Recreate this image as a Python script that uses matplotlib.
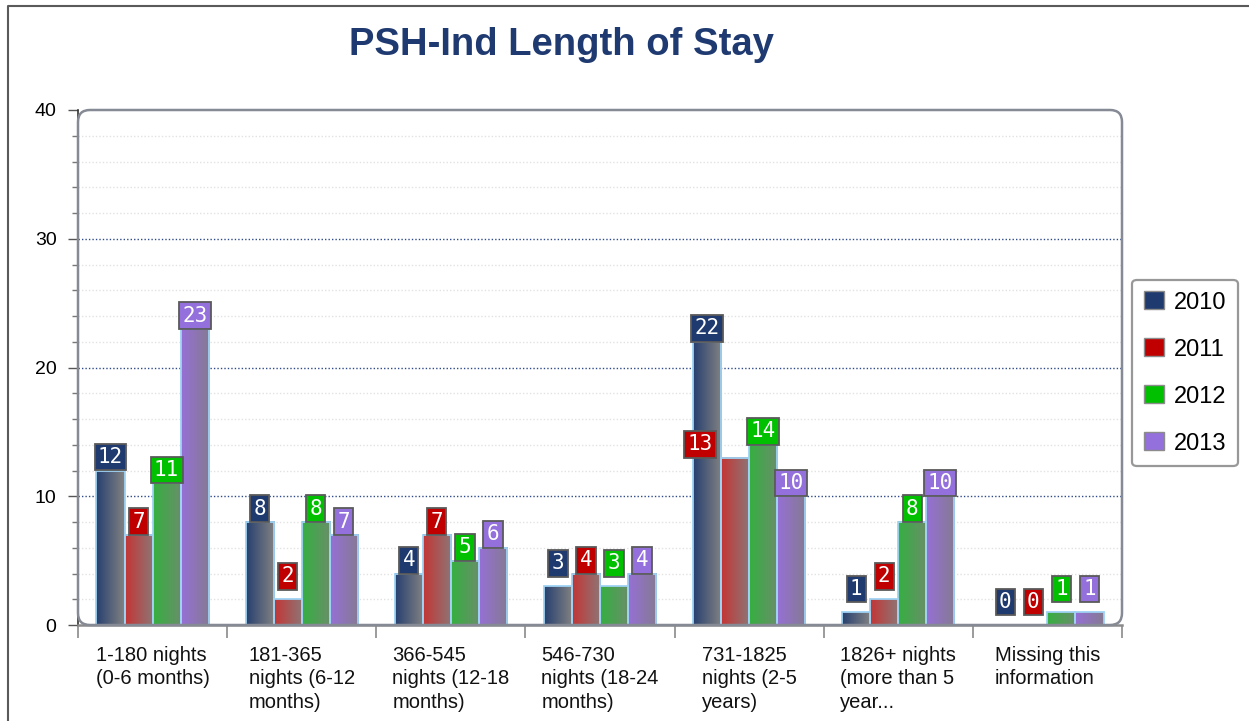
import numpy as np
import matplotlib
matplotlib.use('Agg')
import matplotlib.pyplot as plt
import matplotlib.patches as pch
from matplotlib.lines import Line2D
from matplotlib.ticker import MultipleLocator
from matplotlib.colors import LinearSegmentedColormap


# data
categories = [
    '1-180 nights\n(0-6 months)',
    '181-365\nnights (6-12\nmonths)',
    '366-545\nnights (12-18\nmonths)',
    '546-730\nnights (18-24\nmonths)',
    '731-1825\nnights (2-5\nyears)',
    '1826+ nights\n(more than 5\nyear...',
    'Missing this\ninformation',
]
years = ['2010', '2011', '2012', '2013']
v2010 = [12, 8, 4, 3, 22, 1, 0]
v2011 = [7, 2, 7, 4, 13, 2, 0]
v2012 = [11, 8, 5, 3, 14, 8, 1]
v2013 = [23, 7, 6, 4, 10, 10, 1]
series = [v2010, v2011, v2012, v2013]

# styles
colours = ['#1F3A6E', '#C00000', '#00C000', '#9370DB']
grad_left = ['#27406F', '#C43535', '#35B040', '#9670D6']
grad_right = ['#828282', '#8E7676', '#6A8E6A', '#857A92']
title_colour = '#1F3A70'

plt.rcParams['font.family'] = ['Liberation Sans', 'DejaVu Sans']

fig = plt.figure(figsize=(12.49, 7.21), dpi=100)
W, H = 1249, 721
ax = fig.add_axes([78 / W, 1 - 625 / H, (1122 - 78) / W, (625 - 110) / H])

n_cat = len(categories)
bar_w = 0.188
x = np.arange(n_cat)

# bars: outline from ax.bar, gradient fill from imshow over each bar's extent
grad = np.linspace(0, 1, 64).reshape(1, -1)
for j, vals in enumerate(series):
    xs = x + (j - 1.5) * bar_w
    bars = ax.bar(xs, vals, width=bar_w, color='none', edgecolor='#9FD2F4',
                  linewidth=1.3, zorder=3)
    cmap = LinearSegmentedColormap.from_list('g%d' % j, [grad_left[j], grad_right[j]])
    for b in bars:
        h = b.get_height()
        if h <= 0:
            continue
        x0 = b.get_x()
        ax.imshow(grad, cmap=cmap, extent=[x0, x0 + b.get_width(), 0, h],
                  aspect='auto', zorder=2, interpolation='bilinear')

# value labels (small bars get pushed up a bit, like the original)
nudge = {(4, 1): -25}
pad = 0.16
for j, vals in enumerate(series):
    for i, v in enumerate(vals):
        xv = i + (j - 1.5) * bar_w
        dy = pad * 15 + (7 if v <= 3 else 0)
        ax.annotate(str(v), xy=(xv, v), xytext=(nudge.get((i, j), 0), dy),
                    textcoords='offset points', ha='center', va='bottom',
                    color='white', fontsize=15, family='DejaVu Sans Mono',
                    bbox=dict(boxstyle='square,pad=%s' % pad, fc=colours[j],
                              ec='#5A5A5A', lw=1.3),
                    zorder=5)

# axes
ax.set_xlim(-0.5, n_cat - 0.5)
ax.set_ylim(0, 40)
ax.yaxis.set_major_locator(MultipleLocator(10))
ax.yaxis.set_minor_locator(MultipleLocator(2))
ax.set_xticks(np.arange(n_cat + 1) - 0.5)
ax.set_xticklabels([])
ax.tick_params(axis='x', length=9, width=1.2, color='#8A8A8A')
ax.tick_params(axis='y', which='major', length=7, width=1, color='#555555',
               labelsize=14, pad=8.5)
ax.tick_params(axis='y', which='minor', length=4, width=1, color='#777777')

ax.set_axisbelow(True)
for yv in range(2, 40, 2):
    if yv % 10 == 0:
        ax.axhline(yv, color='#2E4A8A', lw=1, ls=(0, (1, 1.5)), zorder=1)
    else:
        ax.axhline(yv, color='#E2E2E2', lw=1, ls=(0, (1, 1.5)), zorder=1)

for s in ['top', 'right']:
    ax.spines[s].set_visible(False)
ax.spines['left'].set_color('#333333')
ax.spines['left'].set_linewidth(1.2)
ax.spines['bottom'].set_color('#8A8A8A')
ax.spines['bottom'].set_linewidth(1.8)
ax.spines['bottom'].set_zorder(6)

# category labels: block centred on the group, lines left aligned
for i, cat in enumerate(categories):
    ax.annotate(cat, xy=(i, 0), xycoords=('data', 'axes fraction'),
                xytext=(0, -15), textcoords='offset points', ha='center',
                multialignment='left', va='top', fontsize=14.5,
                linespacing=1.3, color='#111111', annotation_clip=False)

# rounded plot frame
frame = pch.FancyBboxPatch((78 / 100, (H - 625) / 100), 10.44, 5.15,
                           boxstyle='round,pad=0,rounding_size=0.12',
                           transform=fig.dpi_scale_trans, fc='none',
                           ec='#858A94', lw=1.8, zorder=4)
fig.add_artist(frame)

# outer border of the picture
fig.add_artist(Line2D([8 / W, 8 / W, 1], [0, 1 - 6 / H, 1 - 6 / H],
                      transform=fig.transFigure, color='#5A5A5A', lw=1.5))

# title
fig.text(561 / W, 1 - 45 / H, 'PSH-Ind Length of Stay', ha='center', va='center',
         fontsize=27.5, fontweight='bold', color=title_colour)

# legend
handles = [pch.Patch(facecolor=colours[j], edgecolor='#8C8C8C', lw=1) for j in range(4)]
leg = fig.legend(handles, years, loc='center left',
                 bbox_to_anchor=(1132 / W, 1 - 373 / H), fontsize=17,
                 frameon=True, fancybox=True, edgecolor='#7E7E7E',
                 handlelength=0.85, handleheight=0.8, handletextpad=0.42,
                 labelspacing=1.05, borderpad=0.5, borderaxespad=0)
leg.get_frame().set_linewidth(1.6)

fig.savefig('out.png', dpi=100)
